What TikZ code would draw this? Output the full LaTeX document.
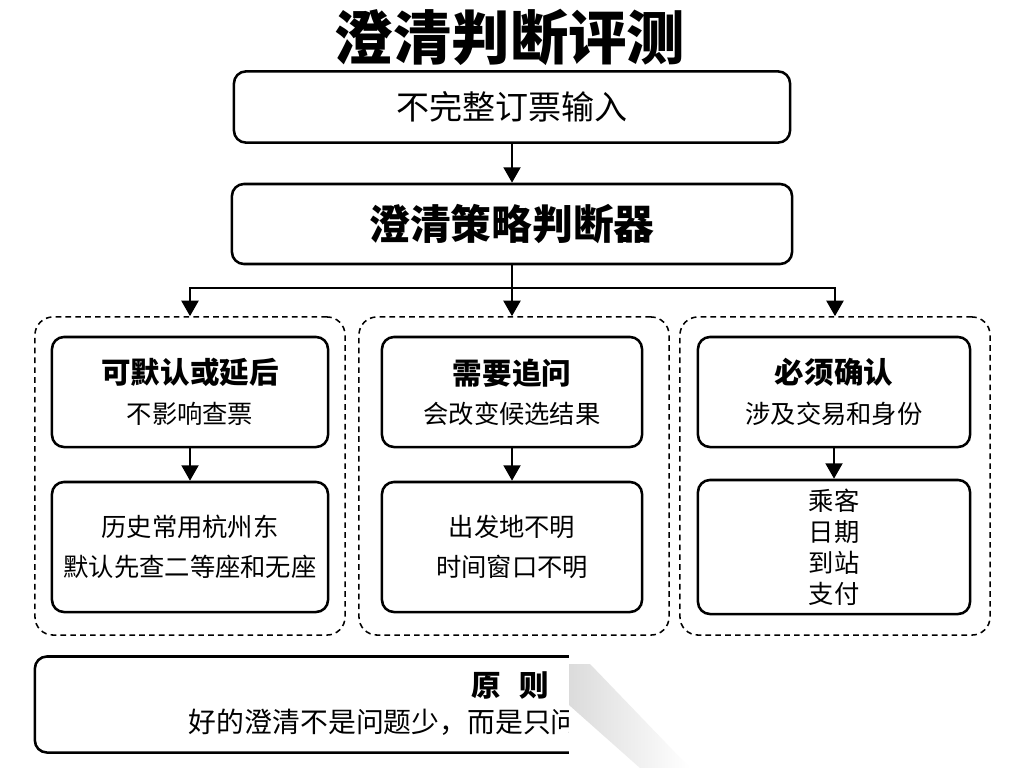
\documentclass[tikz,border=0pt]{standalone}
\usepackage{fontspec}
\setmainfont{Noto Sans CJK SC}
\usetikzlibrary{arrows.meta}

\begin{document}
\begin{tikzpicture}[x=0.025cm,y=-0.025cm]
	\tikzstyle{stepbox}=[draw,line width=1.8pt,rounded corners=0.3cm,inner sep=0pt,align=center]
	\tikzstyle{groupbox}=[draw,line width=1.1pt,dash pattern=on 4pt off 3pt,rounded corners=0.45cm,inner sep=0pt,minimum width=7.75cm,minimum height=7.95cm]
	\tikzstyle{arr}=[line width=1.8pt,-{Triangle[length=11pt,width=12pt]}]

	\useasboundingbox (0,0) rectangle (1024,768);

	\node (title) at (510,37) {\bfseries\fontsize{41.5}{48}\selectfont 澄清判断评测};

	\node (input) at (512,107) [stepbox,minimum width=13.9cm,minimum height=1.78cm] {\fontsize{23.5}{28}\selectfont 不完整订票输入};
	\node (judge) at (512,224) [stepbox,minimum width=14.0cm,minimum height=2.0cm] {\bfseries\fontsize{29}{34}\selectfont 澄清策略判断器};

	\node (grpA) at (190,476) [groupbox] {};
	\node (grpB) at (514,476) [groupbox] {};
	\node (grpC) at (835,476) [groupbox] {};

	\node (defer) at (190,392) [stepbox,minimum width=6.9cm,minimum height=2.75cm,font=\fontsize{18}{28}\selectfont] {{\bfseries\fontsize{21}{28}\selectfont 可默认或延后}\\不影响查票};
	\node (deferex) at (190,547) [stepbox,minimum width=6.9cm,minimum height=3.25cm,font=\fontsize{18}{28}\selectfont] {历史常用杭州东\\默认先查二等座和无座};

	\node (ask) at (512,392) [stepbox,minimum width=6.5cm,minimum height=2.75cm,font=\fontsize{18}{28}\selectfont] {{\bfseries\fontsize{21}{28}\selectfont 需要追问}\\会改变候选结果};
	\node (askex) at (512,547) [stepbox,minimum width=6.5cm,minimum height=3.25cm,font=\fontsize{18}{28}\selectfont] {出发地不明\\时间窗口不明};

	\node (must) at (834,392) [stepbox,minimum width=6.8cm,minimum height=2.75cm,font=\fontsize{18}{28}\selectfont] {{\bfseries\fontsize{21}{28}\selectfont 必须确认}\\涉及交易和身份};
	\node (mustex) at (834,547) [stepbox,minimum width=6.8cm,minimum height=3.35cm,font=\fontsize{18}{22}\selectfont] {乘客\\日期\\到站\\支付};

	\coordinate (split) at (512,288);
	\draw [arr] (input) -- (judge);
	\draw [line width=1.8pt] (judge) -- (split);
	\draw [arr] (split) -| (grpA.north);
	\draw [arr] (split) -- (split |- grpB.north);
	\draw [arr] (split) -| (grpC.north);

	\draw [arr] (defer) -- (deferex);
	\draw [arr] (ask) -- (askex);
	\draw [arr] (must) -- (mustex);

	% principle box, partly hidden on the right
	\node (rule) at (512,704.5) [stepbox,minimum width=23.85cm,minimum height=2.4cm] {};
	\node (ruletitle) at (510,686) {\bfseries\fontsize{21}{26}\selectfont 原\hspace{13pt}则};
	\node (ruletext) at (184,722) [anchor=west] {\fontsize{19.8}{24}\selectfont 好的澄清不是问题少，而是只问};
	\fill [white] (569,645) rectangle (1024,768);
	\shade [left color=gray!28,right color=white] (569,664) -- (590,664) -- (690,768) -- (640,768) -- (569,705) -- cycle;
\end{tikzpicture}
\end{document}
